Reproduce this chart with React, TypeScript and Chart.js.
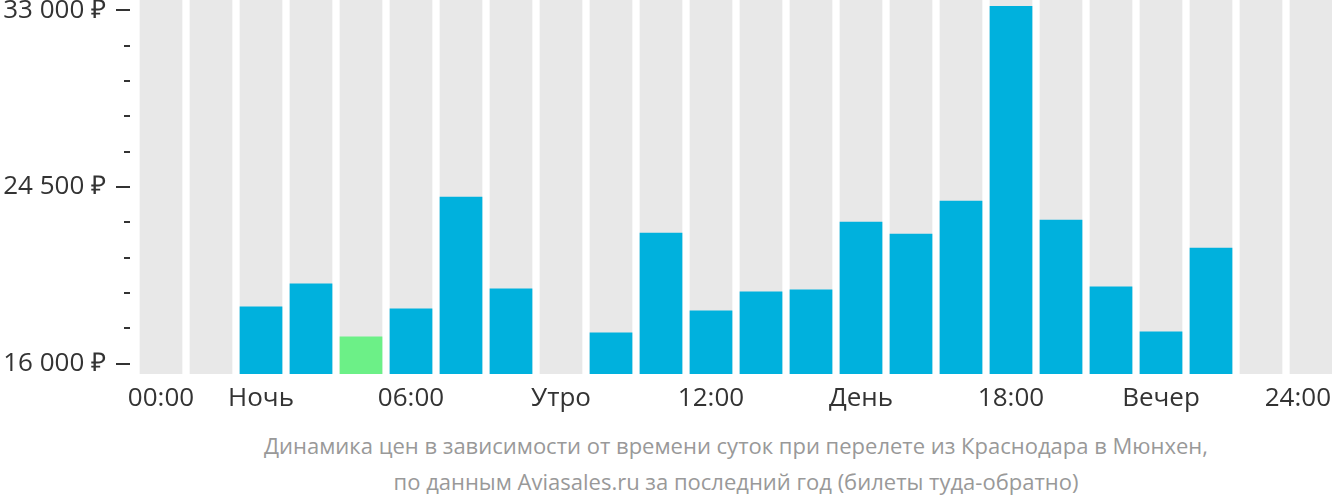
import React, { useEffect, useRef } from "react";
import { Chart, registerables } from "chart.js";

Chart.register(...registerables);

const hours: string[] = [
  "00:00", "", "Ночь", "", "", "06:00", "", "", "Утро", "", "", "12:00",
  "", "", "День", "", "", "18:00", "", "", "Вечер", "", "", "24:00",
];

const prices: (number | null)[] = [
  null, null, 18744, 19850, 17302, 18648, 24031, 19609, null, 17495, 22301, 18552,
  19465, 19561, 22830, 22253, 23839, 33211, 22926, 19706, 17543, 21580, null, null,
];

const cheapestIndex = 4;

const yMin = 15500;
const yMax = 33500;
const yTickValues: number[] = [16000, 17700, 19400, 21100, 22800, 24500, 26200, 27900, 29600, 31300, 33000];
const yMajorTicks: number[] = [16000, 24500, 33000];

const captionLines: string[] = [
  "Динамика цен в зависимости от времени суток при перелете из Краснодара в Мюнхен,",
  "по данным Aviasales.ru за последний год (билеты туда-обратно)",
];

const BLUE = "#00b1dd";
const GREEN = "#6cf087";
const GRAY = "#e8e8e8";
const TEXT = "#333333";
const FONT = "'Open Sans', sans-serif";

const fmt = (v: number) =>
  String(v).replace(/\B(?=(\d{3})+(?!\d))/g, "\u00a0") + " ₽";

export default function App() {
  const ref = useRef<HTMLCanvasElement | null>(null);

  useEffect(() => {
    if (!ref.current) return;
    const tickMarks = {
      id: "tickMarks",
      beforeDraw(chart: any) {
        // keep the last x label inside the visible canvas edge
        const x = chart.scales.x;
        const items = x.getLabelItems();
        const last = items.find((it: any) => it.label === hours[hours.length - 1]);
        if (last) {
          last.options.textAlign = "right";
          last.options.translation[0] = 1331;
        }
      },
      afterDraw(chart: any) {
        const y = chart.scales.y;
        const ctx = chart.ctx;
        ctx.save();
        ctx.strokeStyle = TEXT;
        ctx.lineWidth = 2;
        yTickValues.forEach((v) => {
          const py = Math.round(y.getPixelForValue(v));
          const major = yMajorTicks.includes(v);
          ctx.beginPath();
          ctx.moveTo(major ? 116 : 124, py);
          ctx.lineTo(130, py);
          ctx.stroke();
        });
        ctx.restore();
      },
    };
    const chart = new Chart(ref.current, {
      type: "bar",
      data: {
        labels: hours,
        datasets: [
          {
            data: prices,
            backgroundColor: prices.map((_, i) => (i === cheapestIndex ? GREEN : BLUE)),
            grouped: false,
            barPercentage: 0.854,
            categoryPercentage: 1,
          } as any,
          {
            data: hours.map(() => yMax),
            backgroundColor: GRAY,
            grouped: false,
            barPercentage: 0.854,
            categoryPercentage: 1,
          } as any,
        ],
      },
      options: {
        animation: false,
        responsive: true,
        maintainAspectRatio: false,
        layout: { padding: 0 },
        plugins: { legend: { display: false }, tooltip: { enabled: false }, title: { display: false } },
        scales: {
          x: {
            grid: { display: false, drawTicks: false },
            border: { display: false },
            ticks: {
              autoSkip: false,
              maxRotation: 0,
              padding: 9,
              color: TEXT,
              font: { family: FONT, size: 26 },
            },
            afterFit: (s: any) => {
              s.height = 40;
              s.paddingLeft = 0;
              s.paddingRight = 0;
            },
          },
          y: {
            min: yMin,
            max: yMax,
            grid: { display: false, drawTicks: false },
            border: { display: false },
            afterBuildTicks: (s: any) => {
              s.ticks = yTickValues.map((v) => ({ value: v }));
            },
            ticks: {
              padding: 30,
              color: TEXT,
              font: { family: FONT, size: 26 },
              callback: (v: any) => (yMajorTicks.includes(Number(v)) ? fmt(Number(v)) : ""),
            },
            afterFit: (s: any) => {
              s.width = 136;
              s.paddingTop = 0;
              s.paddingBottom = 0;
            },
          },
        },
      },
      plugins: [tickMarks],
    });
    return () => chart.destroy();
  }, []);

  return (
    <div style={{ position: "fixed", left: 0, top: 0, width: 1332, height: 502, overflow: "hidden", background: "#fff" }}>
      <div style={{ position: "absolute", left: 0, top: 0, width: 1336, height: 414 }}>
        <canvas ref={ref} />
      </div>
      <div
        style={{
          position: "absolute",
          left: 140,
          width: 1192,
          top: 427,
          textAlign: "center",
          fontFamily: FONT,
          fontSize: 22,
          lineHeight: "36px",
          color: "#999",
        }}
      >
        {captionLines.map((l, i) => (
          <div key={i}>{l}</div>
        ))}
      </div>
    </div>
  );
}
